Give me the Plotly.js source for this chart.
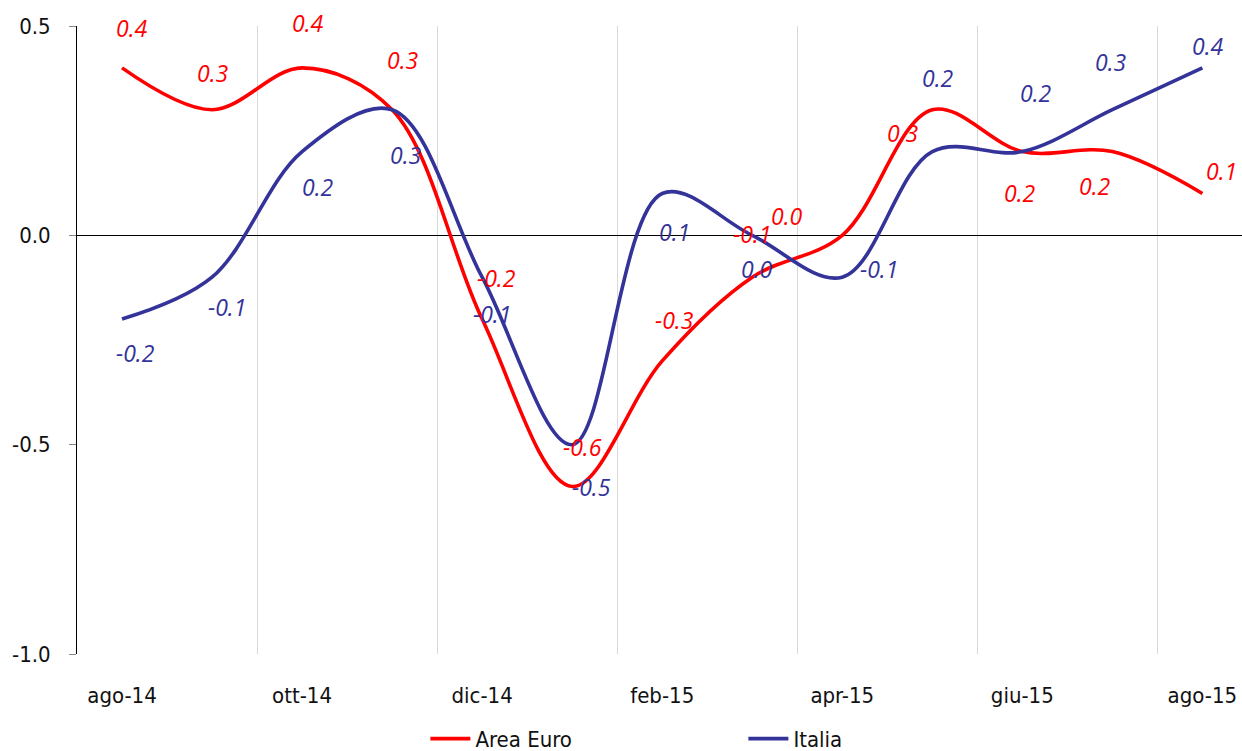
<!DOCTYPE html>
<html>
<head>
<meta charset="utf-8">
<script src="https://cdn.plot.ly/plotly-3.0.1.min.js"></script>
<style>
  html, body { margin: 0; padding: 0; background: #fff; }
  #chart { width: 1242px; height: 751px; }
</style>
</head>
<body>
<div id="chart"></div>
<script>
// Monthly series, ago-14 .. ago-15
const months = ["ago-14","set-14","ott-14","nov-14","dic-14","gen-15","feb-15",
                "mar-15","apr-15","mag-15","giu-15","lug-15","ago-15"];
const areaEuro = [0.4, 0.3, 0.4, 0.3, -0.2, -0.6, -0.3, -0.1, 0.0, 0.3, 0.2, 0.2, 0.1];
const italia   = [-0.2, -0.1, 0.2, 0.3, -0.1, -0.5, 0.1, 0.0, -0.1, 0.2, 0.2, 0.3, 0.4];
const tickMonths = ["ago-14","ott-14","dic-14","feb-15","apr-15","giu-15","ago-15"];

// Pixel offsets for the value labels, so they don't sit on the lines
const euroLabelShift = [[9,40],[0,37],[5,45],[10,50],[14,41],[10,40],[12,41],
                        [0,43],[-56,19],[-30,-23],[-3,-41],[-18,-34],[19,22]];
const italiaLabelShift = [[13,-34],[15,-30],[15,-35],[13,-45],[10,-37],[19,-42],[12,-39],
                          [4,-34],[37,8],[5,74],[13,59],[-2,48],[5,22]];

const RED = "#ff0000";
const BLUE = "#333399";
const narrow = "Liberation Sans Narrow, DejaVu Sans Condensed, Arial Narrow, sans-serif";

const traces = [
  { x: months, y: areaEuro, name: "Area Euro", type: "scatter", mode: "lines",
    line: { color: RED, width: 3.6, shape: "spline", smoothing: 1 } },
  { x: months, y: italia, name: "Italia", type: "scatter", mode: "lines",
    line: { color: BLUE, width: 3.6, shape: "spline", smoothing: 1 } }
];

function labels(vals, shifts, color) {
  return vals.map((v, i) => ({
    x: months[i], y: v, xref: "x", yref: "y",
    text: v.toFixed(1), showarrow: false,
    xshift: shifts[i][0], yshift: shifts[i][1],
    font: { family: "Open Sans, sans-serif", size: 23, color: color, style: "italic" }
  }));
}

const layout = {
  width: 1242, height: 751,
  margin: { l: 77, r: 0, t: 26, b: 97, autoexpand: false },
  paper_bgcolor: "#fff", plot_bgcolor: "#fff",
  showlegend: true,
  legend: {
    orientation: "h", x: 0.572, xanchor: "center", y: -0.135, yanchor: "middle",
    font: { family: narrow, size: 22, color: "#111" },
    entrywidth: 263, itemwidth: 40
  },
  xaxis: {
    type: "category", categoryarray: months, categoryorder: "array",
    range: [-0.5, 12.44],
    tickmode: "array", tickvals: tickMonths, ticktext: tickMonths,
    tickson: "boundaries",
    showgrid: true, gridcolor: "#d9d9d9", gridwidth: 1,
    showline: false, zeroline: false, ticks: "",
    ticklabelstandoff: 26,
    tickfont: { family: narrow, size: 22, color: "#111" },
    fixedrange: true
  },
  yaxis: {
    range: [-1.0, 0.5], tickmode: "array",
    tickvals: [-1.0, -0.5, 0.0, 0.5], ticktext: ["-1.0", "-0.5", "0.0", "0.5"],
    showgrid: false, zeroline: true, zerolinecolor: "#000", zerolinewidth: 1,
    showline: true, linecolor: "#000", linewidth: 1,
    ticks: "outside", ticklen: 7, tickcolor: "#888", tickwidth: 1,
    ticklabelstandoff: 14,
    tickfont: { family: narrow, size: 22, color: "#111" },
    fixedrange: true
  },
  annotations: labels(areaEuro, euroLabelShift, RED)
    .concat(labels(italia, italiaLabelShift, BLUE))
};

Plotly.newPlot("chart", traces, layout, { displayModeBar: false, staticPlot: true });
</script>
</body>
</html>
